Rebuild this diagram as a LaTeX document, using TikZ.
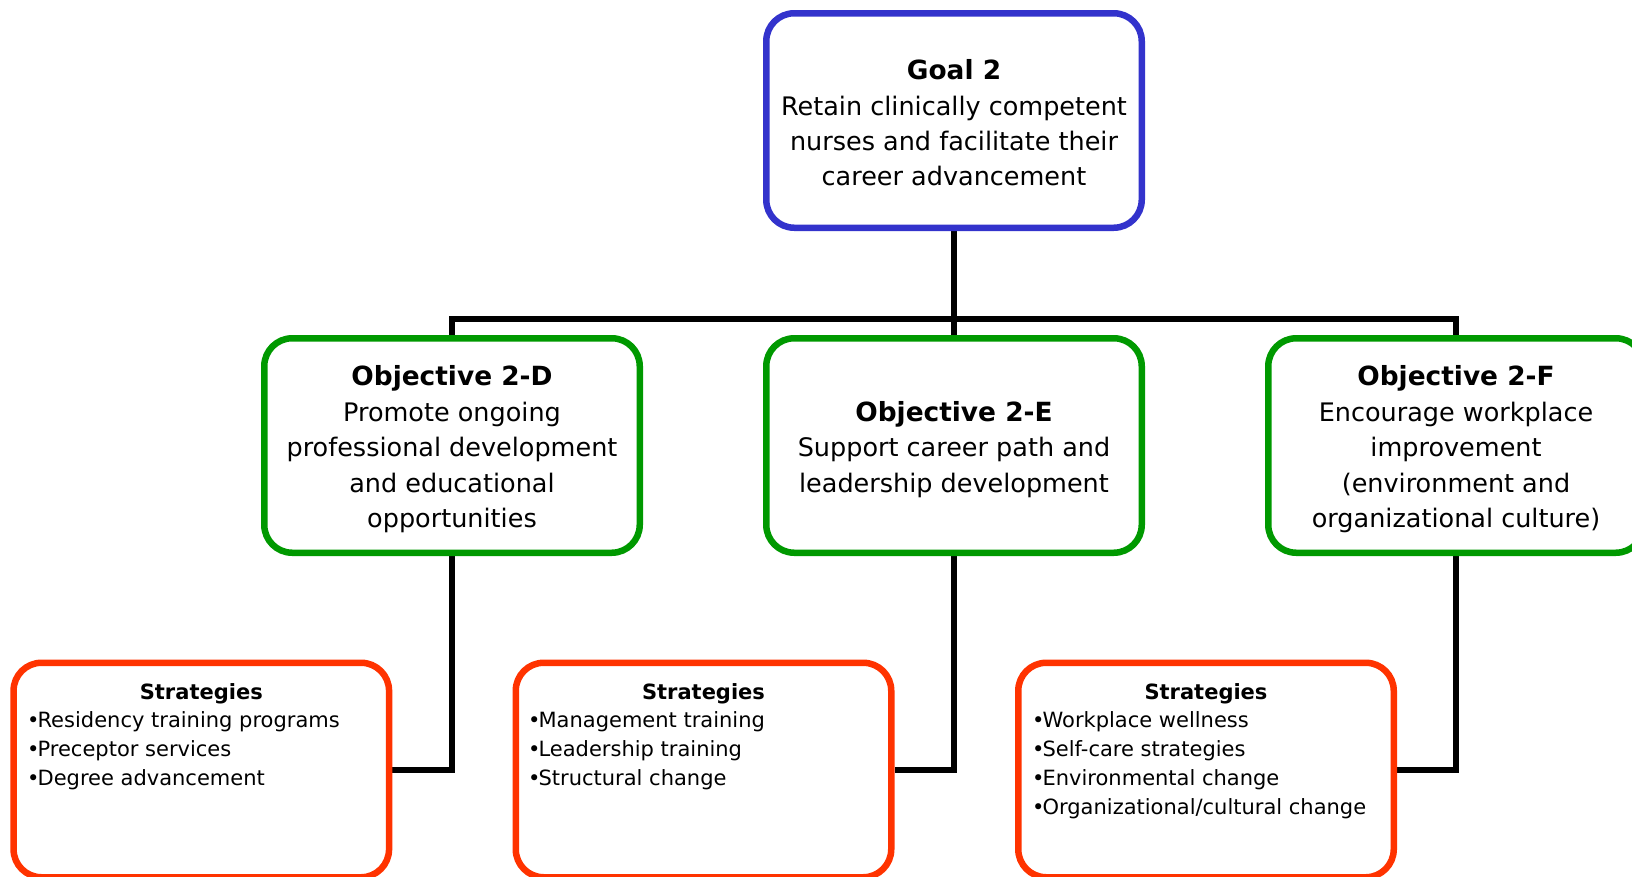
\documentclass[tikz,border=0pt]{standalone}
\usepackage{fontspec}
\setmainfont{DejaVu Sans}
\usetikzlibrary{backgrounds}
\definecolor{goalblue}{RGB}{51,51,204}
\definecolor{objgreen}{RGB}{0,153,0}
\definecolor{stratred}{RGB}{255,51,0}
\newcommand{\bxstrut}{\rule[-10.6pt]{0pt}{35.4pt}}
\newcommand{\ttl}[1]{\bxstrut\textbf{\fontsize{26.4}{35.4}\selectfont #1}}
\newcommand{\bul}{•\kern-2pt}
\begin{document}
\begin{tikzpicture}[x=1pt,y=-1pt,
  box/.style={draw, line width=6.5pt, rounded corners=28pt, fill=white,
    minimum width=375.5pt, minimum height=214.5pt, inner sep=0pt},
  goalbox/.style={box, draw=goalblue},
  objbox/.style={box, draw=objgreen},
  stratbox/.style={box, draw=stratred},
  btext/.style={align=center, inner sep=0pt, font=\fontsize{25.5}{35.4}\selectfont},
  conn/.style={line width=6pt, draw=black},
  head/.style={font=\fontsize{21}{29}\selectfont\bfseries, inner sep=0pt, anchor=base},
  items/.style={font=\fontsize{21}{29}\selectfont, align=left, inner sep=0pt, anchor=north west}
]
\useasboundingbox (0,0) rectangle (1632,876);
\clip (0,0) rectangle (1632,876);

% boxes
\node[goalbox] (goal) at (954,120.5) {};
\node[objbox] (o1) at (452,445.5) {};
\node[objbox] (o2) at (954,445.5) {};
\node[objbox] (o3) at (1456,445.5) {};
\node[stratbox] (s1) at (201.3,770) {};
\node[stratbox] (s2) at (703.5,770) {};
\node[stratbox] (s3) at (1206,770) {};

% box texts
\node[btext] (goalt) at (954,125.7)
  {\ttl{Goal 2}\\Retain clinically competent\\nurses and facilitate their\\career advancement\bxstrut};
\node[btext] (o1t) at (452,449.5)
  {\ttl{Objective 2-D}\\Promote ongoing\\professional development\\and educational\\opportunities\bxstrut};
\node[btext] (o2t) at (954,449.5)
  {\ttl{Objective 2-E}\\Support career path and\\leadership development\bxstrut};
\node[btext] (o3t) at (1456,449.5)
  {\ttl{Objective 2-F}\\Encourage workplace\\improvement\\(environment and\\organizational culture)\bxstrut};

\node[head] (s1h) at (201.3,699.3) {Strategies};
\node[head] (s2h) at (703.5,699.3) {Strategies};
\node[head] (s3h) at (1206,699.3) {Strategies};

\node[items] (s1i) at (27,711) {\bul Residency training programs\\\bul Preceptor services\\\bul Degree advancement};
\node[items] (s2i) at (528,711) {\bul Management training\\\bul Leadership training\\\bul Structural change};
\node[items] (s3i) at (1032,711) {\bul Workplace wellness\\\bul Self-care strategies\\\bul Environmental change\\\bul Organizational/cultural change};

% connectors
\coordinate (bus) at (954,318.5);
\begin{scope}[on background layer]
\draw[conn] (goal.south) -- (bus);
\draw[conn] (o1.north) |- (bus) -| (o3.north);
\draw[conn] (bus) -- (o2.north);
\draw[conn] (o1.south) |- (s1.east);
\draw[conn] (o2.south) |- (s2.east);
\draw[conn] (o3.south) |- (s3.east);
\end{scope}
\end{tikzpicture}
\end{document}
